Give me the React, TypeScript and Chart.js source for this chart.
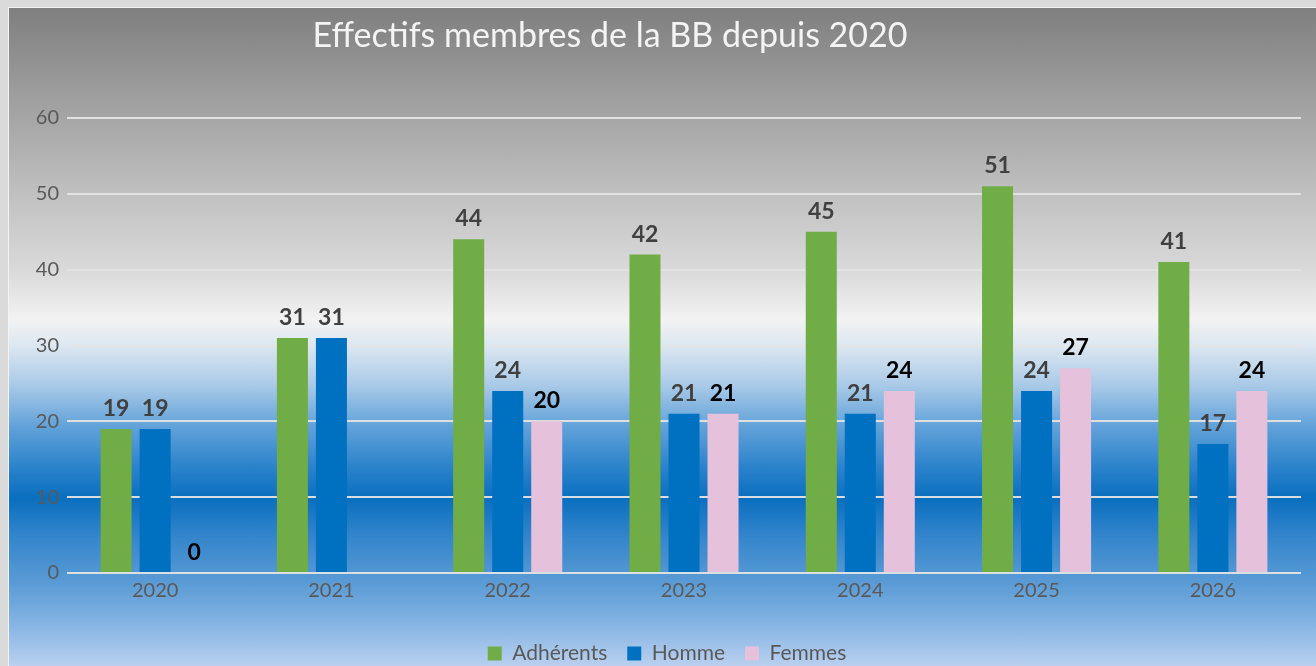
import React, { useEffect, useRef } from "react";
import { Chart, registerables } from "chart.js";

Chart.register(...registerables);

const chartTitle = "Effectifs membres de la BB depuis 2020";
const categories = ["2020", "2021", "2022", "2023", "2024", "2025", "2026"];
const seriesNames = ["Adhérents", "Homme", "Femmes"];
const adherents = [19, 31, 44, 42, 45, 51, 41];
const hommes = [19, 31, 24, 21, 21, 24, 17];
const femmes: (number | null)[] = [0, null, 20, 21, 24, 27, 24];
const seriesColors = ["#70AD47", "#0070C0", "#E5C1DB"];
const labelColors = ["#404040", "#404040", "#000000"];
const yMin = 0;
const yMax = 60;
const yStep = 10;

const FONT = "Lato, 'Open Sans', sans-serif";
const CANVAS_W = 1307;
const CANVAS_H = 666;

const titlePlugin = {
  id: "customTitle",
  afterDraw(chart: any) {
    const ctx = chart.ctx;
    ctx.save();
    ctx.font = `34px ${FONT}`;
    ctx.fillStyle = "#f4f4f4";
    ctx.textAlign = "center";
    ctx.textBaseline = "alphabetic";
    ctx.fillText(chartTitle, 601, 39);
    ctx.restore();
  },
};

const dataLabelPlugin = {
  id: "dataLabels",
  afterDatasetsDraw(chart: any) {
    const ctx = chart.ctx;
    ctx.save();
    ctx.font = `bold 23px ${FONT}`;
    ctx.textAlign = "center";
    ctx.textBaseline = "alphabetic";
    chart.data.datasets.forEach((ds: any, i: number) => {
      const meta = chart.getDatasetMeta(i);
      meta.data.forEach((el: any, j: number) => {
        const v = ds.data[j];
        if (v === null || v === undefined) return;
        ctx.fillStyle = labelColors[i];
        ctx.fillText(String(v), el.x, el.y - 13);
      });
    });
    ctx.restore();
  },
};

export default function App() {
  const canvasRef = useRef<HTMLCanvasElement | null>(null);

  useEffect(() => {
    if (!canvasRef.current) return;
    const chart = new Chart(canvasRef.current, {
      type: "bar",
      data: {
        labels: categories,
        datasets: [adherents, hommes, femmes].map((d, i) => ({
          label: seriesNames[i],
          data: d,
          backgroundColor: seriesColors[i],
          borderWidth: 0,
          categoryPercentage: 0.664,
          barPercentage: 0.795,
        })),
      },
      options: {
        animation: false,
        responsive: false,
        maintainAspectRatio: false,
        layout: { padding: { top: 110, right: 15, left: 24, bottom: 0 } },
        plugins: {
          title: { display: false },
          tooltip: { enabled: false },
          legend: {
            display: true,
            position: "bottom",
            labels: {
              boxWidth: 14,
              boxHeight: 14,
              padding: 20,
              color: "#595959",
              font: { family: FONT, size: 21 },
            },
          },
        },
        scales: {
          x: {
            afterFit: (scale: any) => {
              scale.height = 50;
            },
            grid: { display: false, drawTicks: false },
            border: { display: false },
            ticks: {
              color: "#595959",
              font: { family: FONT, size: 20 },
              padding: 6,
            },
          },
          y: {
            min: yMin,
            max: yMax,
            afterFit: (scale: any) => {
              scale.width = 34;
            },
            grid: {
              color: "rgba(228,228,228,0.95)",
              lineWidth: 2,
              drawTicks: false,
            },
            border: { display: false },
            ticks: {
              stepSize: yStep,
              color: "#595959",
              font: { family: FONT, size: 20 },
              padding: 8,
            },
          },
        },
      },
      plugins: [titlePlugin, dataLabelPlugin],
    });
    if ((document as any).fonts && (document as any).fonts.load) {
      Promise.all([
        (document as any).fonts.load(`20px Lato`),
        (document as any).fonts.load(`bold 22px Lato`),
      ]).then(() => {
        try {
          chart.update();
        } catch (e) {}
      });
    }
    return () => chart.destroy();
  }, []);

  const bg =
    "linear-gradient(to bottom, #7f7f7f 0px, #a5a5a5 109px, #c0c0c0 185px, #d9d9d9 261px, #f2f2f2 312px, #dce7f1 338px, #a8c9e7 378px, #62a2d9 418px, #2a82cb 460px, #0a6fbf 490px, #3586cc 530px, #5a9bd5 575px, #8ab6e4 620px, #b9d0ef 658px)";

  return (
    <div style={{ position: "fixed", inset: 0, background: "#dadada" }}>
      <div
        style={{
          position: "absolute",
          left: 8,
          top: 7,
          width: 1307,
          height: 658,
          overflow: "hidden",
          borderLeft: "1px solid #f3f3f3",
          borderTop: "1px solid #f3f3f3",
          background: bg,
        }}
      >
        <canvas
          ref={canvasRef}
          width={CANVAS_W}
          height={CANVAS_H}
          style={{ display: "block", width: CANVAS_W, height: CANVAS_H }}
        />
      </div>
    </div>
  );
}
